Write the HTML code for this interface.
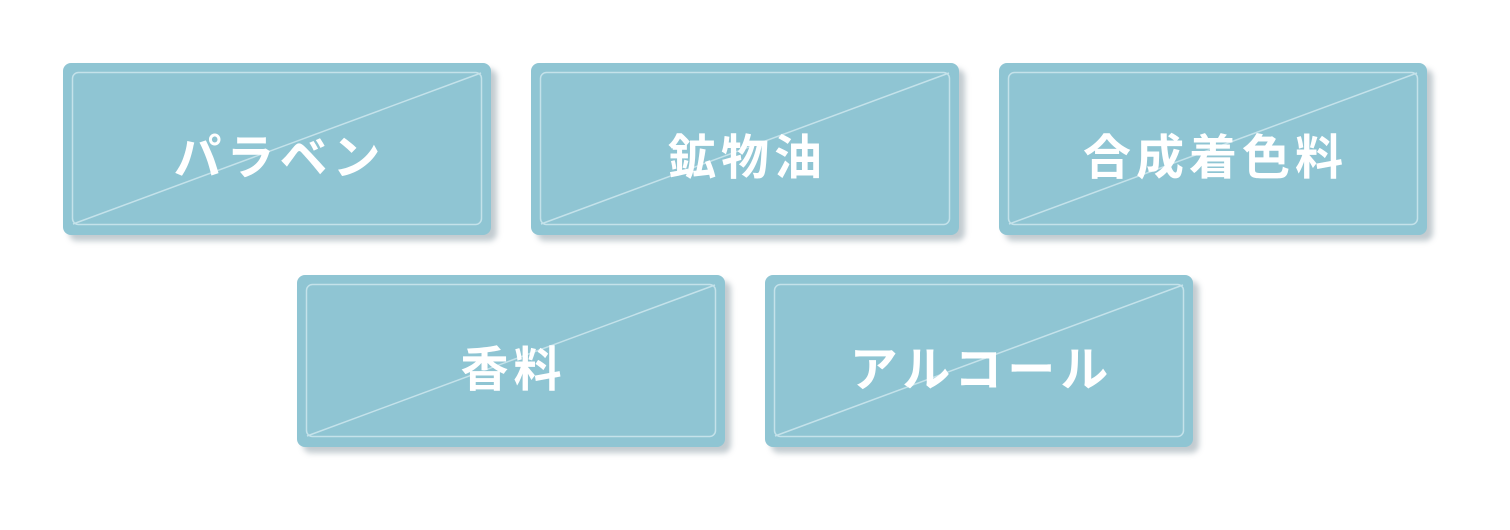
<!DOCTYPE html>
<html><head><meta charset="utf-8"><style>
body{margin:0;width:1510px;height:530px;background:#fff;position:relative;overflow:hidden;font-family:"Liberation Sans","Noto Sans CJK JP",sans-serif}
.b{position:absolute;width:428px;height:172px;background:#8fc5d3;border-radius:8px;box-shadow:6px 6px 6px rgba(120,140,150,0.45)}
.b svg{position:absolute;left:0;top:0}
.t{position:absolute;left:0;top:0;width:100%;height:100%;display:flex;align-items:center;justify-content:center;color:#fff;font-weight:bold;font-size:48px;letter-spacing:5px;padding-top:8px;padding-left:5px;box-sizing:border-box}
</style></head><body>
<div class="b" style="left:63px;top:63px"><svg width="428" height="172"><rect x="9.5" y="9.5" width="409" height="152" rx="6" fill="none" stroke="#c4e2ea" stroke-width="1.5"/><line x1="10" y1="161" x2="418" y2="10" stroke="#c4e2ea" stroke-width="1.5"/></svg><div class="t">パラベン</div></div>
<div class="b" style="left:531px;top:63px"><svg width="428" height="172"><rect x="9.5" y="9.5" width="409" height="152" rx="6" fill="none" stroke="#c4e2ea" stroke-width="1.5"/><line x1="10" y1="161" x2="418" y2="10" stroke="#c4e2ea" stroke-width="1.5"/></svg><div class="t">鉱物油</div></div>
<div class="b" style="left:999px;top:63px"><svg width="428" height="172"><rect x="9.5" y="9.5" width="409" height="152" rx="6" fill="none" stroke="#c4e2ea" stroke-width="1.5"/><line x1="10" y1="161" x2="418" y2="10" stroke="#c4e2ea" stroke-width="1.5"/></svg><div class="t">合成着色料</div></div>
<div class="b" style="left:297px;top:275px"><svg width="428" height="172"><rect x="9.5" y="9.5" width="409" height="152" rx="6" fill="none" stroke="#c4e2ea" stroke-width="1.5"/><line x1="10" y1="161" x2="418" y2="10" stroke="#c4e2ea" stroke-width="1.5"/></svg><div class="t">香料</div></div>
<div class="b" style="left:765px;top:275px"><svg width="428" height="172"><rect x="9.5" y="9.5" width="409" height="152" rx="6" fill="none" stroke="#c4e2ea" stroke-width="1.5"/><line x1="10" y1="161" x2="418" y2="10" stroke="#c4e2ea" stroke-width="1.5"/></svg><div class="t">アルコール</div></div>
</body></html>
